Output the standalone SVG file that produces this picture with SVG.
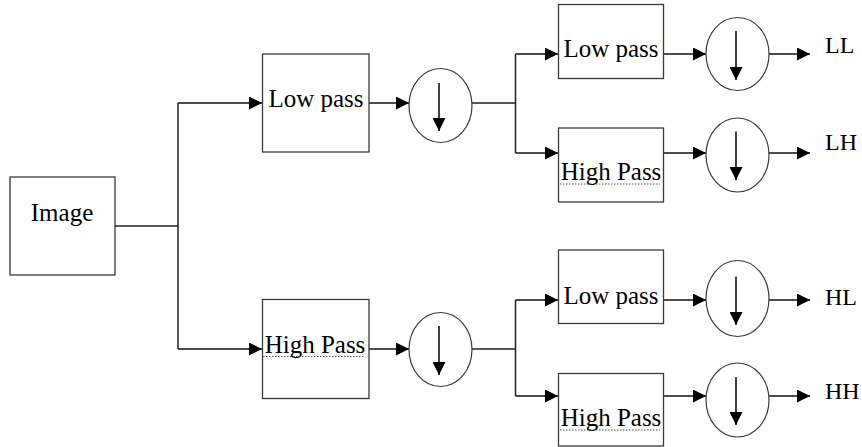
<svg xmlns="http://www.w3.org/2000/svg" width="862" height="447" viewBox="0 0 862 447">
<defs>
<marker id="ah" markerUnits="userSpaceOnUse" markerWidth="13" markerHeight="13" viewBox="0 0 12 12" refX="12" refY="6" orient="auto">
<path d="M0,0 L12,6 L0,12 Z" fill="#000"/>
</marker>
</defs>
<style>
.box{fill:#fff;stroke:#3a3a3a;stroke-width:1.3}
.circ{fill:#fff;stroke:#3a3a3a;stroke-width:1.2}
.ln{fill:none;stroke:#222;stroke-width:1.5}
.arr{fill:none;stroke:#111;stroke-width:1.6;marker-end:url(#ah)}
.t{font-size:25px;fill:#000;text-anchor:middle}
.lbl{font-size:24px;fill:#000}
.ul{stroke:#555;stroke-width:1;stroke-dasharray:1.5,1.5}
</style>
<g id="connectors">
<path class="ln" d="M115,226 H178 M178,103 V349"/>
<path class="arr" d="M178,103 H262"/>
<path class="arr" d="M178,349 H262"/>
<path class="arr" d="M369,103 H409"/>
<path class="arr" d="M369,349 H409"/>
<path class="ln" d="M472,103 H515.5 M515.5,54 V153"/>
<path class="arr" d="M515.5,54 H558"/>
<path class="arr" d="M515.5,153 H558"/>
<path class="ln" d="M472,349 H515.5 M515.5,300 V396"/>
<path class="arr" d="M515.5,300 H558"/>
<path class="arr" d="M515.5,396 H558"/>
<path class="arr" d="M663,54 H706"/>
<path class="arr" d="M663,153 H706"/>
<path class="arr" d="M663,300 H706"/>
<path class="arr" d="M663,396 H706"/>
<path class="arr" d="M769,54 H810"/>
<path class="arr" d="M769,153 H810"/>
<path class="arr" d="M769,300 H810"/>
<path class="arr" d="M769,396 H810"/>
</g>
<g font-family="'Liberation Serif', 'Times New Roman', serif">
<g id="image">
<rect class="box" x="10" y="177" width="105" height="98"/>
<text class="t" x="62" y="221">Image</text>
</g>
<g id="lowpass1">
<rect class="box" x="262.5" y="54" width="106.5" height="98"/>
<text class="t" x="316" y="106.5">Low pass</text>
</g>
<g id="highpass1">
<rect class="box" x="262.5" y="299.5" width="106.5" height="99"/>
<text class="t" x="315" y="353">High Pass</text>
<line class="ul" x1="263" y1="356.5" x2="364" y2="356.5"/>
</g>
<g id="down1">
<ellipse class="circ" cx="440.5" cy="105.5" rx="31.5" ry="37"/>
<path class="arr" d="M439,83 V131"/>
</g>
<g id="down2">
<ellipse class="circ" cx="440.5" cy="349.5" rx="31.5" ry="37"/>
<path class="arr" d="M439,326 V375"/>
</g>
<g id="lowpass2">
<rect class="box" x="558.5" y="4.5" width="105" height="74"/>
<text class="t" x="611" y="56.5">Low pass</text>
</g>
<g id="highpass2">
<rect class="box" x="558.5" y="128" width="105" height="74"/>
<text class="t" x="611" y="180">High Pass</text>
<line class="ul" x1="560" y1="184" x2="660" y2="184"/>
</g>
<g id="lowpass3">
<rect class="box" x="558.5" y="250" width="105" height="73.5"/>
<text class="t" x="611" y="303.5">Low pass</text>
</g>
<g id="highpass3">
<rect class="box" x="558.5" y="373.5" width="105" height="72.5"/>
<text class="t" x="611" y="426">High Pass</text>
<line class="ul" x1="560" y1="430" x2="660" y2="430"/>
</g>
<g id="down3">
<ellipse class="circ" cx="737.5" cy="54" rx="31.5" ry="36.5"/>
<path class="arr" d="M736,31 V80"/>
</g>
<g id="down4">
<ellipse class="circ" cx="737.5" cy="155" rx="31.5" ry="37"/>
<path class="arr" d="M736,131.5 V180"/>
</g>
<g id="down5">
<ellipse class="circ" cx="737.5" cy="298.5" rx="31.5" ry="38"/>
<path class="arr" d="M736,276.5 V325"/>
</g>
<g id="down6">
<ellipse class="circ" cx="737.5" cy="400" rx="31.5" ry="37"/>
<path class="arr" d="M736,377 V425"/>
</g>
<g id="labels">
<text class="lbl" x="825" y="52.5">LL</text>
<text class="lbl" x="825" y="150">LH</text>
<text class="lbl" x="825" y="305">HL</text>
<text class="lbl" x="825" y="399">HH</text>
</g>
</g>
</svg>
